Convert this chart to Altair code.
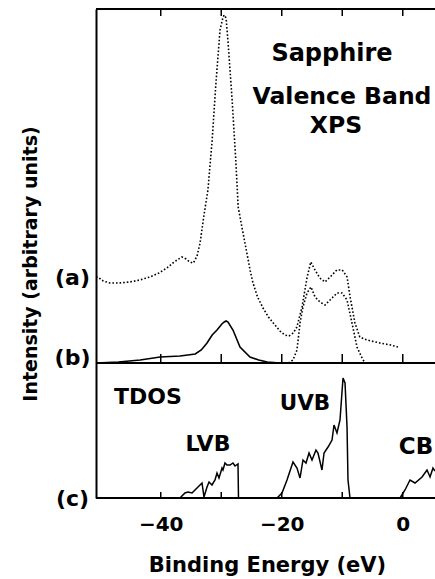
import altair as alt
import pandas as pd

# ---------------- data ----------------
# (a) raw XPS spectrum, intensity above baseline (b)
XPS_A_E = [-50.7, -50.4, -49.5, -48.4, -47.0, -45.1, -43.5, -41.8, -40.3, -39.0,
           -38.0, -37.3, -36.5, -35.8, -35.2, -34.6, -34.0, -33.5, -32.85, -32.2,
           -31.5, -30.9, -30.2, -29.7, -29.5, -29.2, -28.9, -28.2, -27.6, -27.2,
           -26.4, -25.7, -25.2, -24.75, -24.0, -23.1, -22.2, -21.4, -20.3, -19.5,
           -18.8, -18.1, -17.5, -16.65, -15.8, -15.2, -14.5, -13.7, -12.85, -12.0,
           -10.9, -10.0, -9.2, -8.7, -7.9, -7.1, -5.9, -3.8, -2.0, -0.8]
XPS_A_I = [86, 86, 82, 80, 80, 81, 83, 86, 90, 95,
           100, 103, 106, 104, 101, 100, 107, 120, 148, 173,
           223, 278, 333, 346, 348, 345, 323, 263, 203, 156,
           130, 108, 92, 80, 66, 55, 46, 40, 32, 28,
           27, 30, 36, 56, 86, 101, 93, 85, 81, 86,
           93, 93, 86, 66, 40, 26, 23, 20, 18, 16]

# (b) background-subtracted spectrum: upper valence band (dotted)
XPS_B_UVB_E = [-18.9, -18.14, -17.48, -16.98, -16.49, -15.82, -15.16, -14.5, -13.68,
               -12.85, -12.02, -10.86, -10.04, -9.21, -8.39, -7.56, -6.73, -6.24]
XPS_B_UVB_I = [0, 3, 13, 40, 56, 70, 76, 66, 61, 58, 63, 70, 70, 63, 40, 16, 5, 0]

# (b) lower valence band (solid)
XPS_B_LVB_E = [-50.7, -47.0, -43.4, -40.1, -36.8, -34.3, -33.3, -32.35, -31.5, -30.7,
               -29.9, -29.5, -29.2, -28.88, -28.06, -26.9, -25.25, -23.8, -22.4, -20.3]
XPS_B_LVB_I = [0, 1, 3, 6, 7, 9, 13, 20, 28, 33, 39, 41, 42, 41, 33, 16, 6, 3, 1, 0]

# (c) total density of states
TDOS_LVB_E = [-36.82, -36.0, -35.5, -34.83, -34.34, -33.84, -33.18, -32.85, -32.35, -32.02,
              -31.53, -31.03, -30.7, -30.37, -29.87, -29.71, -29.38, -29.05, -28.55, -28.06,
              -27.72, -27.23, -27.15]
TDOS_LVB_I = [0, 5, 6, 5, 8, 11, 15, 1, 11, 16, 13, 18, 25, 20, 30, 28, 35, 33, 33, 35, 32, 34, 0]
TDOS_UVB_E = [-20.78, -19.96, -19.13, -18.14, -17.48, -16.98, -16.49, -15.99, -15.49, -15.0,
              -14.34, -14.01, -13.35, -13.01, -12.35, -11.69, -11.36, -10.87, -10.37, -10.04,
              -9.87, -9.54, -9.21, -9.05, -8.72]
TDOS_UVB_I = [0, 5, 18, 36, 30, 20, 38, 35, 45, 38, 48, 45, 28, 45, 51, 58, 73, 65, 78, 106,
              120, 115, 71, 18, 0]
TDOS_CB_E = [-0.45, 0.37, 1.2, 2.03, 3.19, 4.01, 4.51, 5.0, 5.33]
TDOS_CB_I = [0, 8, 18, 15, 21, 28, 21, 30, 27]

TICK_VALUES = [-40, -30, -20, -10, 0]
LABEL_VALUES = [-40, -20, 0]

# ---------------- layout constants ----------------
X_MIN, X_MAX = -50.7, 5.33
Y_MAX = 489
B_BASE = 135   # vertical offset of traces (a)/(b)
C_BASE = 0     # vertical offset of trace (c)
FONT = "DejaVu Sans"

xs = alt.Scale(domain=[X_MIN, X_MAX], nice=False, zero=False)
ys = alt.Scale(domain=[0, Y_MAX], nice=False, zero=False)

df_a = pd.DataFrame({"E": XPS_A_E, "I": [v + B_BASE for v in XPS_A_I]})
df_bu = pd.DataFrame({"E": XPS_B_UVB_E, "I": [v + B_BASE for v in XPS_B_UVB_I]})
df_bl = pd.DataFrame({"E": XPS_B_LVB_E, "I": [v + B_BASE for v in XPS_B_LVB_I]})
df_c = pd.concat([
    pd.DataFrame({"E": TDOS_LVB_E, "I": TDOS_LVB_I, "band": "LVB"}),
    pd.DataFrame({"E": TDOS_UVB_E, "I": TDOS_UVB_I, "band": "UVB"}),
    pd.DataFrame({"E": TDOS_CB_E, "I": TDOS_CB_I, "band": "CB"}),
])
df_c["I"] = df_c["I"] + C_BASE

x_axis = alt.Axis(values=LABEL_VALUES, domain=False, ticks=False, tickSize=0, grid=False,
                  labelFont=FONT, labelFontWeight="bold", labelFontSize=20, labelColor="black",
                  labelPadding=16, labelFlush=False,
                  title="Binding Energy (eV)", titleFont=FONT, titleFontWeight="bold",
                  titleFontSize=21, titleColor="black", titleBaseline="top",
                  titleX=171, titleY=56)
y_axis = alt.Axis(domain=True, domainColor="black", domainWidth=2, ticks=False, labels=False,
                  grid=False, title="Intensity (arbitrary units)", titleFont=FONT,
                  titleFontWeight="bold", titleFontSize=19, titleColor="black",
                  titleAngle=270, titleAlign="center", titleBaseline="middle",
                  titleX=-66, titleY=254.5)

line_a = alt.Chart(df_a).mark_line(color="black", strokeWidth=1.6, strokeDash=[1.6, 2.0]).encode(
    x=alt.X("E:Q", scale=xs, axis=x_axis),
    y=alt.Y("I:Q", scale=ys, axis=y_axis),
)
line_bu = alt.Chart(df_bu).mark_line(color="black", strokeWidth=1.6, strokeDash=[1.6, 2.0]).encode(
    x=alt.X("E:Q", scale=xs), y=alt.Y("I:Q", scale=ys))
line_bl = alt.Chart(df_bl).mark_line(color="black", strokeWidth=1.6).encode(
    x=alt.X("E:Q", scale=xs), y=alt.Y("I:Q", scale=ys))
line_c = alt.Chart(df_c).mark_line(color="black", strokeWidth=1.5).encode(
    x=alt.X("E:Q", scale=xs), y=alt.Y("I:Q", scale=ys), detail="band:N")

# frame top line and the two baselines
df_h = pd.DataFrame({"x": [X_MIN] * 3, "x2": [X_MAX] * 3, "y": [Y_MAX, B_BASE, C_BASE]})
hlines = alt.Chart(df_h).mark_rule(color="black", strokeWidth=2).encode(
    x=alt.X("x:Q", scale=xs), x2="x2:Q", y=alt.Y("y:Q", scale=ys))

# inward ticks
rows = []
for t in TICK_VALUES:
    rows.append({"x": t, "y": Y_MAX, "y2": Y_MAX - 7})
    rows.append({"x": t, "y": B_BASE, "y2": B_BASE + 9})
    rows.append({"x": t, "y": C_BASE, "y2": C_BASE + 6})
ticks = alt.Chart(pd.DataFrame(rows)).mark_rule(color="black", strokeWidth=1.5).encode(
    x=alt.X("x:Q", scale=xs), y=alt.Y("y:Q", scale=ys), y2="y2:Q")

annotations = [
    ("Sapphire", 236, 44.5, 24),
    ("Valence Band", 246, 88, 23.5),
    ("XPS", 240, 116.5, 23.5),
    ("TDOS", 52, 387.5, 22),
    ("LVB", 112, 434.5, 22),
    ("UVB", 209, 394.5, 21.5),
    ("CB", 320, 437.5, 23),
    ("(a)", -23.5, 268.5, 22),
    ("(b)", -23.5, 349, 22),
    ("(c)", -23.5, 490, 22),
]
texts = [
    alt.Chart(pd.DataFrame({"t": [t]})).mark_text(
        font=FONT, fontWeight="bold", fontSize=s, color="black",
        align="center", baseline="middle").encode(
        x=alt.value(px), y=alt.value(py), text="t:N")
    for t, px, py, s in annotations
]

chart = alt.layer(line_a, line_bu, line_bl, line_c, hlines, ticks, *texts).properties(
    width=339, height=489,
    autosize=alt.AutoSizeParams(type="none"),
    padding={"left": 96, "top": 9, "right": 0, "bottom": 81},
    background="white",
).configure_view(strokeWidth=0)

chart.save("out.html", embed_options={"renderer": "svg", "actions": False})
